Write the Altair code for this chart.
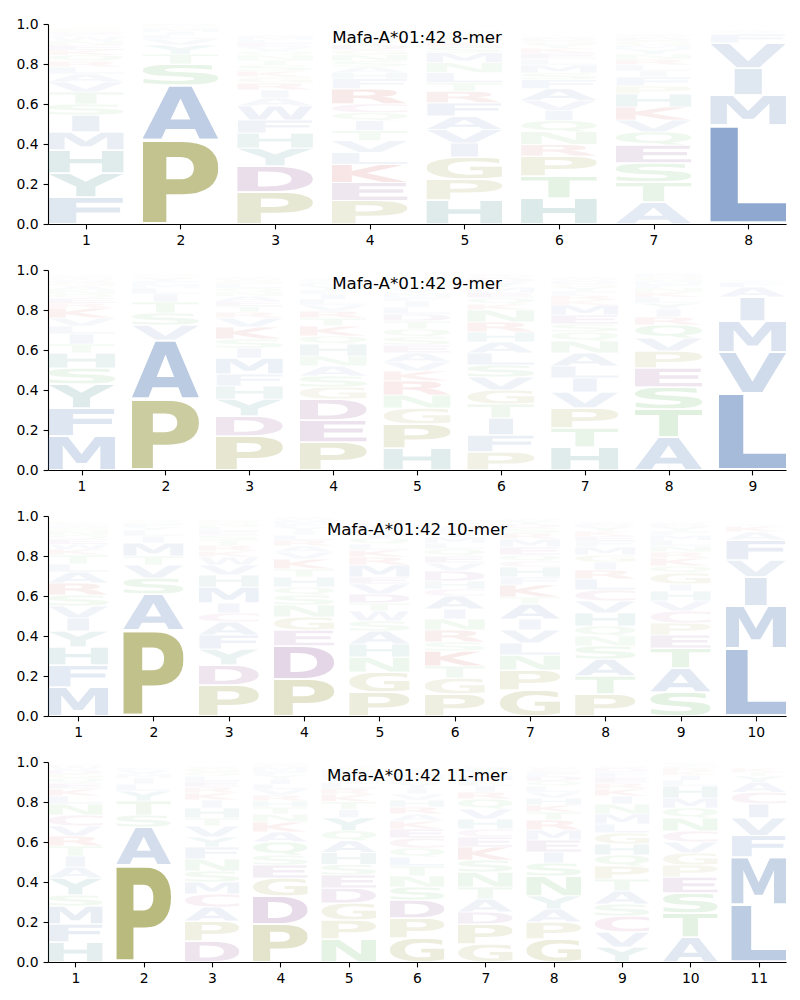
import base64
import glob
import struct
import subprocess

import altair as alt
import pandas as pd

# ---------------- data ----------------
titles = ["Mafa-A*01:42 8-mer", "Mafa-A*01:42 9-mer",
          "Mafa-A*01:42 10-mer", "Mafa-A*01:42 11-mer"]

# letters of each position, bottom -> top, with their frequencies
mer8_letters = ["FYHMISTVALRQKENWCDGP", "PASTYVLIMGQE", "PDYHFWAIRGKSTNQVELMC",
                "PEKLVTIQCRFHASNGDYMW", "HPGIVAFRTLNMSKQEYDW", "HTPRNQIVAFSMLEKYGDWC",
                "ATSEQVKHPFILRNYMGDWC", "LMIVFYA"]
mer8_values = [
    [.135, .12, .115, .09, .085, .055, .06, .05, .04, .035, .03, .03, .025, .025, .02, .02, .015, .01, .01, .01],
    [.42, .275, .105, .05, .045, .03, .02, .015, .015, .01, .01, .005],
    [.16, .13, .09, .075, .065, .07, .04, .04, .035, .03, .03, .03, .025, .025, .02, .02, .02, .015, .015, .01],
    [.118, .09, .09, .06, .058, .05, .05, .04, .045, .075, .05, .03, .03, .03, .03, .025, .025, .02, .015, .01],
    [.12, .105, .11, .07, .067, .067, .067, .058, .042, .05, .05, .05, .03, .025, .02, .015, .01, .01, .005],
    [.13, .11, .1, .058, .063, .055, .053, .05, .058, .045, .033, .04, .03, .03, .025, .02, .015, .015, .008, .005],
    [.11, .1, .095, .09, .065, .06, .065, .065, .04, .045, .03, .03, .03, .025, .025, .02, .02, .015, .01, .01],
    [.495, .15, .135, .125, .045, .01, .01],
]

mer9_letters = ["MFYSHTILVKREQNAGDWCP", "PAVSTILMFYGQ", "PDYHFMISKVRTEANQLGWC",
                "PEDGSANHQKTRVLIFYMWC", "HPGNRKVAESQTDLIFMYWC", "PFITGVSLAHRNKQEMYDWC",
                "HTPVILANQSEMKRFYGDWC", "ATSEPVQRIYLKNFMGHDW", "LVMIAFY"]
mer9_values = [
    [.17, .14, .12, .08, .075, .045, .05, .04, .04, .05, .025, .025, .02, .02, .02, .015, .01, .01, .01, .01],
    [.355, .295, .075, .06, .055, .04, .03, .02, .015, .015, .01, .01],
    [.17, .1, .085, .065, .06, .08, .05, .045, .06, .045, .03, .03, .025, .025, .02, .02, .02, .015, .01, .01],
    [.14, .11, .105, .06, .055, .05, .05, .06, .04, .05, .04, .035, .03, .03, .025, .02, .02, .015, .01, .01],
    [.11, .12, .08, .065, .07, .05, .045, .045, .04, .04, .04, .04, .035, .035, .03, .02, .02, .02, .01, .01],
    [.09, .085, .085, .07, .07, .065, .06, .06, .055, .05, .05, .06, .03, .03, .03, .025, .025, .02, .01, .01],
    [.115, .095, .1, .08, .07, .06, .065, .06, .045, .04, .045, .05, .025, .025, .02, .02, .015, .015, .01, .01],
    [.165, .14, .11, .095, .085, .065, .065, .04, .04, .03, .03, .025, .02, .02, .015, .015, .01, .01, .005],
    [.385, .205, .155, .12, .05, .025, .01],
]

mer10_letters = ["MFHYIVSRALTKWEQNGDCP", "PASVTMILYFGQ", "PDYFACIMHVWKRTSELNQG",
                 "PDEGNSQHTKVARLIYFMWC", "PGNHASWTDVEMRKLQIFYC", "PGTKSRNIACHDVEQLMYFW",
                 "GPNLVIATKFHCQEMRSDYW", "PTASNQHVCLRIGMFEKYDW", "SATEPCVHIGQKRNLMFYDW",
                 "LMIVFAKY"]
mer10_values = [
    [.145, .11, .09, .08, .065, .06, .055, .06, .055, .04, .045, .03, .025, .025, .02, .02, .015, .01, .01, .01],
    [.43, .18, .08, .065, .045, .065, .035, .03, .015, .015, .01, .01],
    [.155, .1, .08, .07, .065, .045, .05, .08, .06, .05, .04, .03, .03, .025, .025, .02, .02, .015, .01, .01],
    [.185, .165, .08, .065, .06, .05, .04, .05, .04, .05, .035, .03, .03, .025, .02, .02, .015, .015, .01, .01],
    [.12, .1, .075, .065, .065, .05, .05, .04, .045, .05, .035, .06, .04, .035, .03, .03, .025, .025, .02, .01],
    [.11, .08, .06, .075, .045, .06, .055, .05, .065, .035, .04, .05, .04, .035, .035, .03, .03, .025, .02, .015],
    [.13, .1, .075, .06, .065, .055, .075, .035, .06, .04, .05, .03, .03, .04, .04, .03, .025, .02, .015, .01],
    [.11, .09, .085, .065, .05, .05, .065, .06, .055, .055, .045, .04, .035, .04, .03, .025, .025, .02, .015, .01],
    [.12, .12, .1, .065, .06, .06, .05, .05, .035, .055, .035, .04, .03, .03, .03, .025, .02, .02, .015, .01],
    [.34, .21, .145, .085, .1, .04, .03, .01],
]

mer11_letters = ["HFMSYAITRVCNLKEQGDWP", "PASTYLIMVF", "DPACMSNFYVTHIKRELQGW",
                 "PDGESQAKNTHRVLIYFMCW", "NPGDESHAQYITKRLVFMCW", "GPDSNTLQCEKARHVIYFMW",
                 "GPDATNSKECHVQRILMYFW", "GPAYNSIEMRTKHVLQDFCW", "YVCSATPQHGLMNIKREFDW",
                 "ATSEPGVCNQMHLIKRFYD", "LMFVICAYTK"]
mer11_values = [
    [.1, .09, .09, .055, .085, .055, .055, .05, .05, .05, .055, .055, .04, .035, .03, .025, .02, .02, .02, .01],
    [.485, .19, .06, .07, .05, .035, .03, .02, .02, .01],
    [.105, .1, .07, .065, .06, .055, .06, .06, .05, .055, .04, .05, .04, .035, .03, .03, .025, .02, .02, .01],
    [.19, .14, .09, .065, .05, .065, .05, .05, .04, .035, .03, .03, .03, .025, .025, .02, .02, .02, .01, .01],
    [.115, .095, .085, .075, .065, .053, .06, .058, .05, .065, .04, .04, .035, .03, .03, .025, .02, .02, .01, .01],
    [.12, .1, .09, .065, .055, .05, .045, .045, .05, .045, .04, .035, .035, .035, .03, .03, .025, .02, .02, .01],
    [.09, .1, .06, .065, .06, .075, .06, .065, .05, .04, .05, .05, .05, .035, .03, .03, .025, .02, .015, .01],
    [.115, .085, .065, .065, .1, .065, .055, .06, .05, .05, .04, .035, .035, .03, .03, .025, .025, .02, .015, .01],
    [.075, .075, .08, .06, .065, .06, .065, .055, .055, .055, .045, .05, .05, .04, .035, .03, .03, .025, .02, .01],
    [.125, .12, .1, .08, .06, .06, .055, .055, .065, .05, .05, .06, .03, .025, .02, .015, .01, .01, .005],
    [.287, .238, .108, .088, .07, .058, .05, .03, .02, .02],
]

# ---------------- styles ----------------
AA_COLORS = {}
for grp, col in [("AVLIMFW", "#416eaf"), ("HY", "#287d7d"), ("PG", "#888a21"),
                 ("DE", "#783282"), ("KR", "#c82828"), ("STNQ", "#46aa46"), ("C", "#b0508c")]:
    for c in grp:
        AA_COLORS[c] = col

GLYPH_WIDTH = 0.8     # fraction of a position occupied by a glyph
VPAD = 0.05           # vertical padding fraction inside each slot
PANEL_W, PANEL_H = 738, 200
FONT = "DejaVu Sans"


# ---------------- glyph outlines from the installed font ----------------
def find_font():
    pats = ["/usr/share/fonts/**/DejaVuSans-Bold.ttf",
            "/usr/local/share/fonts/**/DejaVuSans-Bold.ttf"]
    for p in pats:
        r = glob.glob(p, recursive=True)
        if r:
            return r[0]
    try:
        out = subprocess.run(["fc-match", "-f", "%{file}", "DejaVu Sans:bold"],
                             capture_output=True, text=True, timeout=10).stdout.strip()
        if out.lower().endswith(".ttf"):
            return out
    except Exception:
        pass
    for p in ["/usr/share/fonts/**/LiberationSans-Bold.ttf", "/usr/**/DejaVuSans-Bold.ttf"]:
        r = glob.glob(p, recursive=True)
        if r:
            return r[0]
    return None


def load_glyphs(path, chars):
    d = open(path, "rb").read()
    off = 0
    if d[:4] == b"ttcf":
        off = struct.unpack(">I", d[12:16])[0]
    num = struct.unpack(">H", d[off + 4:off + 6])[0]
    T = {}
    for i in range(num):
        rec = off + 12 + 16 * i
        tag = d[rec:rec + 4].decode("latin1")
        o = struct.unpack(">I", d[rec + 8:rec + 12])[0]
        T[tag] = o
    head = T["head"]
    locfmt = struct.unpack(">h", d[head + 50:head + 52])[0]
    ng = struct.unpack(">H", d[T["maxp"] + 4:T["maxp"] + 6])[0]
    loca = T["loca"]
    if locfmt == 0:
        offs = [2 * x for x in struct.unpack(">%dH" % (ng + 1), d[loca:loca + 2 * (ng + 1)])]
    else:
        offs = list(struct.unpack(">%dI" % (ng + 1), d[loca:loca + 4 * (ng + 1)]))
    cm = T["cmap"]
    nsub = struct.unpack(">H", d[cm + 2:cm + 4])[0]
    sub = None
    for i in range(nsub):
        pid, eid, so = struct.unpack(">HHI", d[cm + 4 + 8 * i:cm + 12 + 8 * i])
        fmt = struct.unpack(">H", d[cm + so:cm + so + 2])[0]
        if fmt == 4 and pid in (0, 3):
            sub = cm + so
            break
    segx2 = struct.unpack(">H", d[sub + 6:sub + 8])[0]
    seg = segx2 // 2
    ends = struct.unpack(">%dH" % seg, d[sub + 14:sub + 14 + segx2])
    starts = struct.unpack(">%dH" % seg, d[sub + 16 + segx2:sub + 16 + 2 * segx2])
    deltas = struct.unpack(">%dh" % seg, d[sub + 16 + 2 * segx2:sub + 16 + 3 * segx2])
    rpos = sub + 16 + 3 * segx2
    roffs = struct.unpack(">%dH" % seg, d[rpos:rpos + segx2])

    def gid(ch):
        code = ord(ch)
        for i in range(seg):
            if starts[i] <= code <= ends[i]:
                if roffs[i] == 0:
                    return (code + deltas[i]) & 0xFFFF
                addr = rpos + 2 * i + roffs[i] + 2 * (code - starts[i])
                g = struct.unpack(">H", d[addr:addr + 2])[0]
                return (g + deltas[i]) & 0xFFFF if g else 0
        return 0

    glyf = T["glyf"]

    def contours(g, dx=0, dy=0):
        o = glyf + offs[g]
        if offs[g + 1] == offs[g]:
            return []
        nc = struct.unpack(">h", d[o:o + 2])[0]
        p = o + 10
        if nc < 0:
            res = []
            while True:
                flags, cg = struct.unpack(">HH", d[p:p + 4])
                p += 4
                if flags & 1:
                    a1, a2 = struct.unpack(">hh", d[p:p + 4]); p += 4
                else:
                    a1, a2 = struct.unpack(">bb", d[p:p + 2]); p += 2
                if flags & 8:
                    p += 2
                elif flags & 0x40:
                    p += 4
                elif flags & 0x80:
                    p += 8
                res += contours(cg, dx + (a1 if flags & 2 else 0), dy + (a2 if flags & 2 else 0))
                if not flags & 0x20:
                    break
            return res
        endpts = struct.unpack(">%dH" % nc, d[p:p + 2 * nc]); p += 2 * nc
        il = struct.unpack(">H", d[p:p + 2])[0]; p += 2 + il
        npts = endpts[-1] + 1
        fl = []
        while len(fl) < npts:
            f = d[p]; p += 1
            fl.append(f)
            if f & 8:
                r = d[p]; p += 1
                fl.extend([f] * r)
        xs, v = [], 0
        for f in fl:
            if f & 2:
                v += d[p] if f & 16 else -d[p]; p += 1
            elif not f & 16:
                v += struct.unpack(">h", d[p:p + 2])[0]; p += 2
            xs.append(v)
        ys, v = [], 0
        for f in fl:
            if f & 4:
                v += d[p] if f & 32 else -d[p]; p += 1
            elif not f & 32:
                v += struct.unpack(">h", d[p:p + 2])[0]; p += 2
            ys.append(v)
        res, s = [], 0
        for e in endpts:
            res.append([(xs[k] + dx, ys[k] + dy, fl[k] & 1) for k in range(s, e + 1)])
            s = e + 1
        return res

    def to_path(cs):
        out = []
        for pts in cs:
            n = len(pts)
            if n == 0:
                continue
            st = next((i for i in range(n) if pts[i][2]), None)
            if st is None:
                mid = ((pts[0][0] + pts[-1][0]) / 2, (pts[0][1] + pts[-1][1]) / 2, 1)
                pts = [mid] + pts
                st = 0
            pts = pts[st:] + pts[:st]
            n = len(pts)
            out.append("M%g %g" % (pts[0][0], -pts[0][1]))
            prev = None
            for k in range(1, n + 1):
                x, y, on = pts[k % n]
                if on:
                    if prev:
                        out.append("Q%g %g %g %g" % (prev[0], -prev[1], x, -y))
                        prev = None
                    else:
                        out.append("L%g %g" % (x, -y))
                else:
                    if prev:
                        mx, my = (prev[0] + x) / 2, (prev[1] + y) / 2
                        out.append("Q%g %g %g %g" % (prev[0], -prev[1], mx, -my))
                    prev = (x, y)
            out.append("Z")
        return "".join(out)

    res = {}
    for ch in chars:
        cs = contours(gid(ch))
        allp = [pt for c in cs for pt in c]
        xmin = min(pt[0] for pt in allp); xmax = max(pt[0] for pt in allp)
        ymin = min(pt[1] for pt in allp); ymax = max(pt[1] for pt in allp)
        res[ch] = (to_path(cs), xmin, ymin, xmax, ymax)
    return res


AAS = "ACDEFGHIKLMNPQRSTVWY"
glyph_rows = []
font_path = find_font()
glyphs = None
if font_path:
    try:
        glyphs = load_glyphs(font_path, AAS + "E")
    except Exception:
        glyphs = None

if glyphs:
    e_w = glyphs["E"][3] - glyphs["E"][1]
    for c in AAS:
        path, x0, y0, x1, y1 = glyphs[c]
        w, h = x1 - x0, y1 - y0
        svg = ("<svg xmlns='http://www.w3.org/2000/svg' width='%d' height='%d' "
               "viewBox='%d %d %d %d' preserveAspectRatio='none'>"
               "<path d='%s' fill='%s'/></svg>") % (w, h, x0, -y1, w, h, path, AA_COLORS[c])
        url = "data:image/svg+xml;base64," + base64.b64encode(svg.encode()).decode()
        glyph_rows.append({"aa": c, "url": url, "wrel": min(1.0, w / e_w)})
else:
    for c in AAS:
        svg = ("<svg xmlns='http://www.w3.org/2000/svg' width='700' height='729' "
               "viewBox='40 -729 620 729' preserveAspectRatio='none'>"
               "<text x='0' y='0' font-family='DejaVu Sans' font-weight='bold' font-size='1000' "
               "textLength='700' lengthAdjust='spacingAndGlyphs' fill='%s'>%s</text></svg>") % (AA_COLORS[c], c)
        url = "data:image/svg+xml;base64," + base64.b64encode(svg.encode()).decode()
        glyph_rows.append({"aa": c, "url": url, "wrel": 0.35 if c == "I" else 1.0})

glyph_df = pd.DataFrame(glyph_rows)


# ---------------- chart ----------------
def panel(letters, values, title):
    n = len(letters)
    rows = []
    for pos, (ls, vs) in enumerate(zip(letters, values), start=1):
        for rank, (c, v) in enumerate(zip(ls, vs)):
            rows.append({"pos": pos, "aa": c, "freq": v, "rank": rank})
    df = pd.DataFrame(rows)

    logo = (
        alt.Chart(df)
        .transform_stack(stack="freq", groupby=["pos"], as_=["y0", "y1"],
                         sort=[alt.SortField("rank", order="ascending")])
        .transform_lookup(lookup="aa", from_=alt.LookupData(glyph_df, "aa", ["url", "wrel"]))
        .transform_calculate(
            gy0="datum.y0 + %f * (datum.y1 - datum.y0) / 2" % VPAD,
            gy1="datum.y1 - %f * (datum.y1 - datum.y0) / 2" % VPAD,
            gx0="datum.pos - %f * datum.wrel / 2" % GLYPH_WIDTH,
            gx1="datum.pos + %f * datum.wrel / 2" % GLYPH_WIDTH,
        )
        .mark_image(aspect=False)
        .encode(
            x=alt.X("gx0:Q", scale=alt.Scale(domain=[0.6, n + 0.4], nice=False, zero=False),
                    axis=alt.Axis(values=list(range(1, n + 1)), format="d", title=None)),
            x2="gx1:Q",
            y=alt.Y("gy1:Q", scale=alt.Scale(domain=[0, 1], nice=False),
                    axis=alt.Axis(values=[0, 0.2, 0.4, 0.6, 0.8, 1.0], format=".1f", title=None)),
            y2="gy0:Q",
            url="url:N",
            opacity=alt.Opacity("freq:Q", scale=alt.Scale(domain=[0, 0.5], range=[0, 0.6], clamp=True),
                                legend=None),
        )
    )
    label = (
        alt.Chart(pd.DataFrame({"t": [title]}))
        .mark_text(font=FONT, fontSize=16.7, color="black", align="center", baseline="middle")
        .encode(text="t:N", x=alt.value(PANEL_W / 2), y=alt.value(14))
    )
    return alt.layer(logo, label).properties(width=PANEL_W, height=PANEL_H)


panels = [panel(mer8_letters, mer8_values, titles[0]),
          panel(mer9_letters, mer9_values, titles[1]),
          panel(mer10_letters, mer10_values, titles[2]),
          panel(mer11_letters, mer11_values, titles[3])]

chart = (
    alt.vconcat(*panels, spacing=15)
    .properties(padding={"top": 9, "left": 8, "right": 5, "bottom": 5}, background="white")
    .configure_view(stroke=None)
    .configure_axis(labelFont=FONT, labelFontSize=13.9, labelColor="black",
                    tickColor="black", domainColor="black", tickSize=4.9, tickWidth=1.1,
                    domainWidth=1.1, labelPadding=5, grid=False)
)

chart.save("out.html", embed_options={"renderer": "svg", "actions": False})
